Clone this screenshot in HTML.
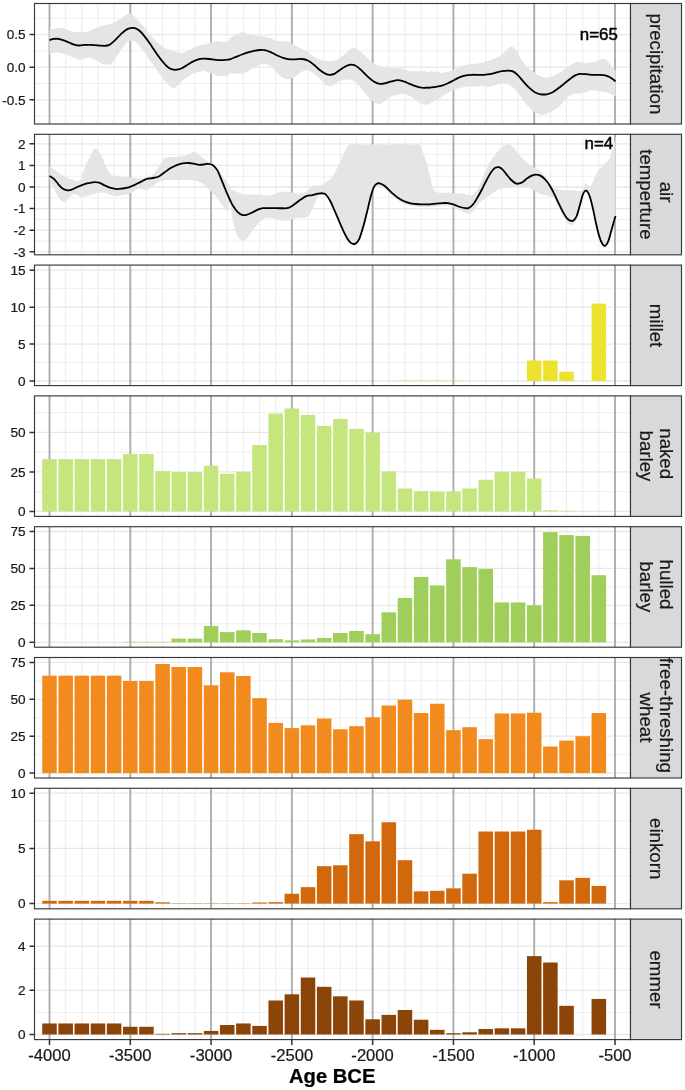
<!DOCTYPE html><html><head><meta charset="utf-8"><title>Age BCE</title><style>html,body{margin:0;padding:0;background:#fff}svg{display:block}text{font-family:"Liberation Sans",Arial,Helvetica,sans-serif;fill:#1a1a1a;stroke:#1a1a1a;stroke-width:0.22px}</style></head><body>
<svg width="685" height="1090" viewBox="0 0 685 1090">
<rect width="685" height="1090" fill="#fff"/>
<g>
<clipPath id="c0"><rect x="34.5" y="3.5" width="596.0" height="120.5"/></clipPath>
<path d="M34.5,18.30H630.5M34.5,50.90H630.5M34.5,83.50H630.5M34.5,116.10H630.5" stroke="#e8e8e8" stroke-width="0.75" fill="none"/>
<path d="M65.66,3.5V124.0M81.81,3.5V124.0M97.97,3.5V124.0M114.13,3.5V124.0M146.44,3.5V124.0M162.60,3.5V124.0M178.76,3.5V124.0M194.91,3.5V124.0M227.23,3.5V124.0M243.39,3.5V124.0M259.54,3.5V124.0M275.70,3.5V124.0M308.01,3.5V124.0M324.17,3.5V124.0M340.33,3.5V124.0M356.48,3.5V124.0M388.80,3.5V124.0M404.96,3.5V124.0M421.11,3.5V124.0M437.27,3.5V124.0M469.58,3.5V124.0M485.74,3.5V124.0M501.90,3.5V124.0M518.06,3.5V124.0M550.37,3.5V124.0M566.53,3.5V124.0M582.68,3.5V124.0M598.84,3.5V124.0" stroke="#e5e5e5" stroke-width="0.75" fill="none"/>
<path d="M34.5,34.60H630.5M34.5,67.20H630.5M34.5,99.80H630.5" stroke="#e8e8e8" stroke-width="1.3" fill="none"/>
<path d="M49.50,3.5V124.0M130.29,3.5V124.0M211.07,3.5V124.0M291.86,3.5V124.0M372.64,3.5V124.0M453.43,3.5V124.0M534.21,3.5V124.0M615.00,3.5V124.0" stroke="#adadad" stroke-width="1.9" fill="none"/>
<path d="M49.5,29.9 C50.2,29.7 52.2,29.0 53.9,28.7 C55.7,28.4 57.9,28.0 59.9,28.1 C61.9,28.2 63.9,28.7 65.9,29.3 C67.9,29.9 69.9,31.2 71.9,31.7 C73.9,32.2 75.9,32.2 77.9,32.3 C79.9,32.4 81.9,32.5 83.9,32.3 C85.9,32.1 87.9,31.8 89.9,31.1 C91.9,30.4 93.9,29.0 95.8,28.1 C97.8,27.2 99.8,26.3 101.8,25.7 C103.8,25.1 105.8,25.0 107.8,24.5 C109.8,24.0 111.8,23.6 113.8,22.7 C115.8,21.8 117.8,20.5 119.8,19.2 C121.8,17.9 124.0,15.9 125.8,15.0 C127.5,14.1 128.8,13.5 130.3,13.8 C131.8,14.1 133.0,15.2 134.8,16.8 C136.5,18.4 138.7,21.1 140.7,23.3 C142.7,25.6 144.7,28.1 146.7,30.5 C148.7,32.9 150.7,35.5 152.7,37.7 C154.7,39.9 156.7,42.0 158.7,43.7 C160.7,45.4 162.7,46.8 164.7,47.9 C166.7,49.0 168.7,49.6 170.7,50.3 C172.7,51.0 174.7,51.6 176.7,52.1 C178.7,52.6 180.9,53.5 182.6,53.3 C184.4,53.1 185.4,51.8 187.1,50.9 C188.9,50.0 191.1,48.8 193.1,47.9 C195.1,47.0 197.1,46.1 199.1,45.5 C201.1,44.9 203.1,44.8 205.1,44.3 C207.1,43.8 209.1,43.0 211.1,42.5 C213.1,42.0 215.1,41.4 217.1,41.3 C219.1,41.2 221.1,42.0 223.1,41.9 C225.1,41.8 227.9,41.3 229.0,40.7 C230.2,40.1 228.8,39.3 230.0,38.3 C231.2,37.3 234.0,35.7 236.0,34.7 C238.0,33.7 240.2,32.6 242.0,32.3 C243.7,32.0 244.7,32.4 246.5,32.9 C248.2,33.4 250.5,34.8 252.4,35.3 C254.4,35.8 256.4,35.7 258.4,35.9 C260.4,36.1 262.4,36.1 264.4,36.5 C266.4,36.9 268.4,37.6 270.4,38.3 C272.4,39.0 274.4,40.2 276.4,40.7 C278.4,41.2 280.4,41.1 282.4,41.3 C284.4,41.5 286.4,41.3 288.4,41.9 C290.4,42.5 292.4,43.9 294.4,44.9 C296.3,45.9 298.3,46.9 300.3,47.9 C302.3,48.9 304.3,49.6 306.3,50.9 C308.3,52.2 310.3,54.3 312.3,55.7 C314.3,57.1 316.3,58.5 318.3,59.3 C320.3,60.1 322.3,60.2 324.3,60.5 C326.3,60.8 328.3,61.2 330.3,61.1 C332.3,61.0 334.3,60.7 336.3,59.9 C338.3,59.1 340.2,57.8 342.2,56.3 C344.2,54.8 346.5,52.3 348.2,50.9 C350.0,49.5 351.2,48.2 352.7,47.9 C354.2,47.6 355.5,48.1 357.2,49.1 C359.0,50.1 361.2,52.1 363.2,53.9 C365.2,55.7 367.2,58.2 369.2,59.9 C371.2,61.6 373.2,63.0 375.2,64.1 C377.2,65.2 379.2,65.8 381.2,66.4 C383.1,67.0 385.1,67.3 387.1,67.6 C389.1,67.9 391.1,68.1 393.1,68.2 C395.1,68.3 397.1,68.0 399.1,68.2 C401.1,68.4 403.1,68.9 405.1,69.4 C407.1,69.9 409.1,70.9 411.1,71.2 C413.1,71.5 415.1,71.2 417.1,71.2 C419.1,71.2 421.1,71.0 423.1,71.2 C425.1,71.4 427.9,72.4 429.0,72.4 C430.2,72.4 428.8,71.3 430.0,71.2 C431.2,71.1 434.0,71.5 436.0,71.8 C438.0,72.1 440.0,73.0 442.0,73.0 C444.0,73.0 446.0,72.4 448.0,71.8 C450.0,71.2 451.9,70.2 453.9,69.4 C455.9,68.6 457.9,67.8 459.9,67.0 C461.9,66.2 463.9,65.2 465.9,64.7 C467.9,64.2 469.9,64.3 471.9,64.1 C473.9,63.9 475.9,63.8 477.9,63.5 C479.9,63.2 481.9,62.8 483.9,62.3 C485.9,61.8 487.9,61.2 489.9,60.5 C491.9,59.8 493.9,59.0 495.8,58.1 C497.8,57.2 500.1,56.4 501.8,55.1 C503.6,53.8 504.8,51.7 506.3,50.3 C507.8,48.8 509.3,46.6 510.8,46.4 C512.3,46.2 513.8,47.3 515.3,49.1 C516.8,50.8 518.0,54.2 519.8,56.9 C521.5,59.6 523.8,63.0 525.8,65.2 C527.8,67.5 529.8,69.0 531.8,70.6 C533.8,72.2 535.8,73.7 537.8,74.8 C539.7,75.9 541.7,76.8 543.7,77.2 C545.7,77.6 547.7,77.6 549.7,77.2 C551.7,76.8 553.7,75.8 555.7,74.8 C557.7,73.8 559.7,72.5 561.7,71.2 C563.7,69.9 565.7,68.3 567.7,67.0 C569.7,65.7 571.9,64.4 573.7,63.5 C575.4,62.6 576.4,61.8 578.2,61.7 C579.9,61.6 582.2,62.8 584.1,62.9 C586.1,63.0 588.1,62.5 590.1,62.3 C592.1,62.1 594.1,62.3 596.1,61.7 C598.1,61.1 600.4,59.0 602.1,58.7 C603.9,58.4 605.1,58.7 606.6,59.9 C608.1,61.1 609.6,64.1 611.1,65.8 C612.6,67.6 614.8,69.8 615.6,70.6 L615.6,96.4 C615.1,96.2 613.8,95.8 612.6,95.2 C611.3,94.6 609.8,93.4 608.1,92.8 C606.3,92.2 604.1,92.0 602.1,91.6 C600.1,91.2 598.1,90.6 596.1,90.4 C594.1,90.2 592.1,90.0 590.1,90.4 C588.1,90.8 586.1,92.3 584.1,92.8 C582.2,93.3 580.2,93.1 578.2,93.4 C576.2,93.7 574.2,93.7 572.2,94.6 C570.2,95.5 568.2,97.0 566.2,98.8 C564.2,100.6 562.2,103.5 560.2,105.4 C558.2,107.3 556.2,108.8 554.2,110.1 C552.2,111.4 550.2,112.3 548.2,113.1 C546.2,113.9 544.2,114.9 542.2,114.9 C540.2,114.9 538.3,114.2 536.3,113.1 C534.3,112.0 532.3,110.2 530.3,108.4 C528.3,106.5 526.3,104.3 524.3,101.8 C522.3,99.3 520.3,95.9 518.3,93.4 C516.3,90.9 514.3,88.4 512.3,86.8 C510.3,85.2 508.3,84.3 506.3,83.8 C504.3,83.3 502.3,83.5 500.3,83.8 C498.3,84.1 496.1,85.1 494.4,85.6 C492.6,86.1 491.6,86.7 489.9,86.8 C488.1,86.9 485.9,86.3 483.9,86.2 C481.9,86.1 479.9,86.1 477.9,86.2 C475.9,86.3 473.9,86.7 471.9,86.8 C469.9,86.9 467.9,86.6 465.9,86.8 C463.9,87.0 461.9,87.5 459.9,88.0 C457.9,88.5 455.9,89.0 453.9,89.8 C451.9,90.6 450.0,91.7 448.0,92.8 C446.0,93.9 444.0,95.2 442.0,96.4 C440.0,97.6 438.0,98.8 436.0,100.0 C434.0,101.2 431.7,102.8 430.0,103.6 C428.3,104.4 427.5,104.8 426.0,104.8 C424.6,104.8 423.3,104.4 421.6,103.6 C419.8,102.8 417.6,101.3 415.6,100.0 C413.6,98.7 411.6,96.8 409.6,95.8 C407.6,94.8 405.6,94.2 403.6,94.0 C401.6,93.8 399.6,94.2 397.6,94.6 C395.6,95.0 393.6,95.4 391.6,96.4 C389.6,97.4 387.4,99.4 385.6,100.6 C383.9,101.8 382.6,103.1 381.2,103.6 C379.7,104.1 378.4,104.3 376.7,103.6 C374.9,102.9 372.7,101.2 370.7,99.4 C368.7,97.6 366.7,95.1 364.7,92.8 C362.7,90.5 360.7,87.6 358.7,85.6 C356.7,83.6 354.7,81.8 352.7,80.8 C350.7,79.8 348.7,79.6 346.7,79.6 C344.7,79.6 342.7,80.0 340.7,80.8 C338.7,81.6 336.5,83.5 334.8,84.4 C333.0,85.3 331.8,86.2 330.3,86.2 C328.8,86.2 327.5,85.6 325.8,84.4 C324.0,83.2 321.8,80.8 319.8,79.0 C317.8,77.2 315.8,75.0 313.8,73.6 C311.8,72.2 309.8,70.9 307.8,70.6 C305.8,70.3 303.8,70.9 301.8,71.8 C299.8,72.7 297.8,74.8 295.8,76.0 C293.9,77.2 291.9,78.6 289.9,79.0 C287.9,79.4 285.9,79.3 283.9,78.4 C281.9,77.5 279.9,75.5 277.9,73.6 C275.9,71.7 273.9,68.6 271.9,67.0 C269.9,65.4 267.9,64.5 265.9,64.1 C263.9,63.7 261.9,64.1 259.9,64.7 C257.9,65.2 255.9,66.5 253.9,67.6 C251.9,68.7 250.0,70.2 248.0,71.2 C246.0,72.2 244.0,73.2 242.0,73.6 C240.0,74.0 238.0,73.7 236.0,73.6 C234.0,73.5 231.2,72.8 230.0,73.0 C228.8,73.2 230.2,74.3 229.0,74.8 C227.9,75.3 225.1,75.9 223.1,76.0 C221.1,76.1 219.1,75.8 217.1,75.4 C215.1,75.0 213.1,74.3 211.1,73.6 C209.1,72.9 207.1,71.5 205.1,71.2 C203.1,70.9 201.1,71.4 199.1,71.8 C197.1,72.2 195.1,72.7 193.1,73.6 C191.1,74.5 188.9,76.1 187.1,77.2 C185.4,78.3 184.1,78.9 182.6,80.2 C181.2,81.5 179.7,83.7 178.2,85.0 C176.7,86.3 175.2,87.9 173.7,88.0 C172.2,88.1 170.7,86.8 169.2,85.6 C167.7,84.4 166.4,82.9 164.7,80.8 C162.9,78.7 160.7,75.8 158.7,73.0 C156.7,70.2 154.7,66.9 152.7,64.1 C150.7,61.2 148.7,58.5 146.7,55.7 C144.7,52.9 142.7,49.7 140.7,47.3 C138.7,44.9 136.5,42.4 134.8,41.3 C133.0,40.2 131.8,40.3 130.3,40.7 C128.8,41.1 127.5,41.9 125.8,43.7 C124.0,45.5 121.5,49.0 119.8,51.5 C118.0,54.0 116.8,56.6 115.3,58.7 C113.8,60.8 112.3,63.1 110.8,64.1 C109.3,65.1 108.1,64.9 106.3,64.7 C104.6,64.5 102.3,63.8 100.3,62.9 C98.3,62.0 96.3,60.2 94.4,59.3 C92.4,58.4 90.4,57.5 88.4,57.5 C86.4,57.5 84.1,59.0 82.4,59.3 C80.6,59.6 79.6,59.7 77.9,59.3 C76.1,58.9 73.9,57.7 71.9,56.9 C69.9,56.1 67.9,55.2 65.9,54.5 C63.9,53.8 61.9,53.0 59.9,52.7 C57.9,52.4 55.7,52.4 53.9,52.7 C52.2,53.0 50.2,54.2 49.5,54.5Z" fill="#e5e5e5" clip-path="url(#c0)"/>
<path d="M49.5,40.1 C50.2,39.9 52.4,39.1 53.9,38.9 C55.4,38.7 56.9,38.7 58.4,38.9 C59.9,39.1 61.2,39.5 62.9,40.1 C64.7,40.7 66.9,41.7 68.9,42.5 C70.9,43.3 73.2,44.4 74.9,44.9 C76.6,45.4 77.6,45.5 79.4,45.5 C81.1,45.5 83.4,45.0 85.4,44.9 C87.4,44.8 89.1,44.8 91.4,44.9 C93.6,45.0 96.6,45.3 98.8,45.5 C101.1,45.6 103.1,45.9 104.8,45.8 C106.6,45.7 107.8,45.6 109.3,44.9 C110.8,44.1 112.1,42.9 113.8,41.3 C115.6,39.7 117.8,37.2 119.8,35.3 C121.8,33.4 124.0,31.1 125.8,29.9 C127.5,28.7 128.8,28.4 130.3,28.1 C131.8,27.8 133.3,27.7 134.8,28.1 C136.3,28.5 137.5,29.0 139.2,30.5 C141.0,32.0 143.2,34.6 145.2,37.1 C147.2,39.6 149.2,42.6 151.2,45.5 C153.2,48.4 155.2,51.7 157.2,54.5 C159.2,57.3 161.4,60.2 163.2,62.3 C164.9,64.4 166.2,65.8 167.7,67.0 C169.2,68.2 170.7,69.0 172.2,69.4 C173.7,69.9 175.2,69.9 176.7,69.7 C178.2,69.6 179.7,69.1 181.2,68.5 C182.6,67.9 183.9,67.2 185.6,66.1 C187.4,65.1 189.6,63.4 191.6,62.3 C193.6,61.2 195.6,60.2 197.6,59.6 C199.6,59.0 201.6,58.8 203.6,58.7 C205.6,58.6 207.6,58.8 209.6,59.0 C211.6,59.2 213.6,59.7 215.6,59.9 C217.6,60.1 219.6,60.2 221.6,60.2 C223.6,60.1 226.1,59.7 227.5,59.6 C229.0,59.4 228.6,59.7 230.0,59.3 C231.4,58.8 234.0,57.7 236.0,56.9 C238.0,56.1 240.0,55.2 242.0,54.5 C244.0,53.7 246.0,53.0 248.0,52.4 C250.0,51.8 251.9,51.3 253.9,50.9 C255.9,50.5 257.9,50.1 259.9,50.0 C261.9,49.9 263.9,49.8 265.9,50.3 C267.9,50.7 269.9,51.8 271.9,52.7 C273.9,53.6 275.9,54.8 277.9,55.7 C279.9,56.6 281.9,57.5 283.9,58.1 C285.9,58.7 287.9,59.1 289.9,59.3 C291.9,59.5 293.9,59.3 295.8,59.3 C297.8,59.2 299.8,58.8 301.8,59.0 C303.8,59.2 305.8,59.5 307.8,60.5 C309.8,61.4 311.8,63.1 313.8,64.7 C315.8,66.2 317.8,68.5 319.8,70.0 C321.8,71.6 324.0,73.1 325.8,73.9 C327.5,74.7 328.8,74.9 330.3,74.8 C331.8,74.8 333.0,74.5 334.8,73.6 C336.5,72.7 338.7,70.7 340.7,69.4 C342.7,68.1 345.0,66.6 346.7,65.8 C348.5,65.1 349.7,64.7 351.2,64.7 C352.7,64.7 354.0,64.9 355.7,65.8 C357.5,66.8 359.7,68.8 361.7,70.6 C363.7,72.4 365.7,74.8 367.7,76.6 C369.7,78.4 371.7,80.2 373.7,81.4 C375.7,82.6 377.7,83.5 379.7,83.8 C381.7,84.1 383.6,83.6 385.6,83.2 C387.6,82.8 389.6,81.9 391.6,81.4 C393.6,80.9 395.6,80.2 397.6,80.2 C399.6,80.2 401.6,80.8 403.6,81.4 C405.6,82.0 407.6,83.0 409.6,83.8 C411.6,84.6 413.6,85.6 415.6,86.2 C417.6,86.9 419.6,87.4 421.6,87.7 C423.6,87.9 426.1,87.7 427.5,87.7 C429.0,87.7 428.6,87.8 430.0,87.7 C431.4,87.5 434.0,87.1 436.0,86.8 C438.0,86.5 440.0,86.2 442.0,85.6 C444.0,85.0 446.0,84.1 448.0,83.2 C450.0,82.3 451.9,81.2 453.9,80.2 C455.9,79.2 457.9,78.0 459.9,77.2 C461.9,76.4 463.9,75.8 465.9,75.4 C467.9,75.0 469.9,74.9 471.9,74.8 C473.9,74.7 475.9,74.8 477.9,74.8 C479.9,74.8 481.9,74.9 483.9,74.8 C485.9,74.7 487.9,74.6 489.9,74.2 C491.9,73.9 493.9,73.2 495.8,72.7 C497.8,72.2 499.8,71.6 501.8,71.2 C503.8,70.9 506.1,70.6 507.8,70.6 C509.6,70.6 510.8,70.6 512.3,71.2 C513.8,71.8 515.1,72.6 516.8,74.2 C518.5,75.8 520.8,78.6 522.8,80.8 C524.8,83.0 526.8,85.5 528.8,87.4 C530.8,89.3 532.8,91.0 534.8,92.2 C536.8,93.3 538.7,93.9 540.7,94.3 C542.7,94.6 544.7,94.6 546.7,94.3 C548.7,93.9 550.7,93.2 552.7,92.2 C554.7,91.1 556.7,89.5 558.7,88.0 C560.7,86.5 562.7,84.8 564.7,83.2 C566.7,81.6 568.9,79.7 570.7,78.4 C572.4,77.1 573.7,76.2 575.2,75.4 C576.7,74.7 577.9,74.1 579.7,73.9 C581.4,73.7 583.6,74.1 585.6,74.2 C587.6,74.4 589.6,74.7 591.6,74.8 C593.6,74.9 595.6,74.8 597.6,74.8 C599.6,74.9 601.9,74.9 603.6,75.1 C605.3,75.4 606.6,75.7 608.1,76.3 C609.6,77.0 611.3,78.2 612.6,79.0 C613.8,79.9 615.1,81.0 615.6,81.4" fill="none" stroke="#000" stroke-width="1.8" stroke-linejoin="round"/>
<rect x="34.5" y="3.5" width="596.0" height="120.5" fill="none" stroke="#383838" stroke-width="1.15"/>
<rect x="630.5" y="3.5" width="51.0" height="120.5" fill="#d9d9d9" stroke="#383838" stroke-width="1.15"/>
<text transform="translate(649.8,63.9) scale(0.99,1) rotate(90)" text-anchor="middle" font-size="18.7">precipitation</text>
<path d="M29.5,34.60H34.5M29.5,67.20H34.5M29.5,99.80H34.5" stroke="#333" stroke-width="1.5" fill="none"/>
<text x="25.6" y="39.4" text-anchor="end" font-size="13.6">0.5</text>
<text x="25.6" y="72.0" text-anchor="end" font-size="13.6">0.0</text>
<text x="25.6" y="104.6" text-anchor="end" font-size="13.6">-0.5</text>
</g>
<g>
<clipPath id="c1"><rect x="34.5" y="134.3" width="596.0" height="120.5"/></clipPath>
<path d="M34.5,154.60H630.5M34.5,176.20H630.5M34.5,197.80H630.5M34.5,219.40H630.5M34.5,241.00H630.5" stroke="#e8e8e8" stroke-width="0.75" fill="none"/>
<path d="M65.66,134.3V254.8M81.81,134.3V254.8M97.97,134.3V254.8M114.13,134.3V254.8M146.44,134.3V254.8M162.60,134.3V254.8M178.76,134.3V254.8M194.91,134.3V254.8M227.23,134.3V254.8M243.39,134.3V254.8M259.54,134.3V254.8M275.70,134.3V254.8M308.01,134.3V254.8M324.17,134.3V254.8M340.33,134.3V254.8M356.48,134.3V254.8M388.80,134.3V254.8M404.96,134.3V254.8M421.11,134.3V254.8M437.27,134.3V254.8M469.58,134.3V254.8M485.74,134.3V254.8M501.90,134.3V254.8M518.06,134.3V254.8M550.37,134.3V254.8M566.53,134.3V254.8M582.68,134.3V254.8M598.84,134.3V254.8" stroke="#e5e5e5" stroke-width="0.75" fill="none"/>
<path d="M34.5,143.80H630.5M34.5,165.40H630.5M34.5,187.00H630.5M34.5,208.60H630.5M34.5,230.20H630.5M34.5,251.80H630.5" stroke="#e8e8e8" stroke-width="1.3" fill="none"/>
<path d="M49.50,134.3V254.8M130.29,134.3V254.8M211.07,134.3V254.8M291.86,134.3V254.8M372.64,134.3V254.8M453.43,134.3V254.8M534.21,134.3V254.8M615.00,134.3V254.8" stroke="#adadad" stroke-width="1.9" fill="none"/>
<path d="M49.5,165.7 C50.5,166.5 53.4,169.0 55.4,170.5 C57.4,172.0 59.4,173.5 61.4,174.7 C63.4,175.9 65.4,176.8 67.4,177.7 C69.4,178.6 71.4,179.6 73.4,180.1 C75.4,180.6 77.6,182.4 79.4,180.7 C81.1,179.0 82.4,173.4 83.9,169.9 C85.4,166.4 86.9,162.9 88.4,159.7 C89.9,156.5 91.5,152.7 92.9,150.8 C94.2,148.9 95.2,147.9 96.4,148.4 C97.7,148.9 98.9,151.2 100.3,153.7 C101.7,156.3 103.3,160.7 104.8,163.9 C106.3,167.1 107.8,170.9 109.3,172.9 C110.8,174.9 112.1,175.3 113.8,175.9 C115.6,176.5 117.8,176.3 119.8,176.5 C121.8,176.7 123.8,176.9 125.8,177.1 C127.8,177.3 129.8,177.5 131.8,177.7 C133.8,177.9 135.8,178.2 137.8,178.3 C139.7,178.4 141.7,178.6 143.7,178.3 C145.7,178.0 148.0,177.4 149.7,176.5 C151.5,175.6 152.7,174.5 154.2,172.9 C155.7,171.3 157.2,169.1 158.7,166.9 C160.2,164.7 161.9,161.3 163.2,159.7 C164.4,158.1 164.7,157.7 166.2,157.3 C167.7,156.9 170.2,157.4 172.2,157.3 C174.2,157.2 176.2,156.9 178.2,156.7 C180.2,156.5 182.4,156.5 184.1,156.1 C185.9,155.7 187.0,155.0 188.6,154.3 C190.3,153.6 192.3,151.9 194.0,152.0 C195.8,152.1 197.3,153.6 199.1,154.9 C201.0,156.2 203.1,158.3 205.1,159.7 C207.1,161.1 209.1,161.9 211.1,163.3 C213.1,164.7 215.1,165.9 217.1,168.1 C219.1,170.3 221.1,173.7 223.1,176.5 C225.1,179.3 227.9,182.9 229.0,184.9 C230.2,186.9 228.8,187.4 230.0,188.5 C231.2,189.6 234.0,190.6 236.0,191.5 C238.0,192.4 240.0,193.4 242.0,193.9 C244.0,194.4 246.0,194.4 248.0,194.5 C250.0,194.6 251.9,194.5 253.9,194.5 C255.9,194.5 257.9,194.3 259.9,194.5 C261.9,194.7 263.9,195.6 265.9,195.7 C267.9,195.8 269.9,195.6 271.9,195.1 C273.9,194.6 275.9,193.3 277.9,192.7 C279.9,192.1 281.9,191.6 283.9,191.5 C285.9,191.4 287.9,191.8 289.9,192.1 C291.9,192.4 293.9,193.1 295.8,193.3 C297.8,193.5 299.8,193.7 301.8,193.3 C303.8,192.9 306.1,192.1 307.8,190.9 C309.6,189.7 310.8,187.0 312.3,186.1 C313.8,185.2 315.3,185.7 316.8,185.5 C318.3,185.3 319.8,185.5 321.3,184.9 C322.8,184.3 324.3,182.9 325.8,181.9 C327.3,180.9 328.8,180.4 330.3,178.9 C331.8,177.4 333.3,175.5 334.8,172.9 C336.3,170.3 337.8,166.5 339.2,163.3 C340.7,160.1 342.2,156.6 343.7,153.7 C345.2,150.9 347.0,147.6 348.2,146.0 C349.5,144.4 349.5,144.5 351.2,144.2 C353.0,143.9 356.0,144.1 358.7,144.2 C361.4,144.3 364.7,144.8 367.7,144.8 C370.7,144.8 373.7,144.2 376.7,144.2 C379.7,144.2 382.6,144.8 385.6,144.8 C388.6,144.8 391.6,144.3 394.6,144.2 C397.6,144.1 400.6,144.1 403.6,144.2 C406.6,144.3 410.1,144.8 412.6,144.8 C415.1,144.8 417.1,143.5 418.6,144.2 C420.1,144.9 420.3,146.2 421.6,149.0 C422.8,151.8 424.6,156.4 426.0,160.9 C427.5,165.4 428.9,171.6 430.0,175.9 C431.1,180.2 431.4,184.0 432.4,186.7 C433.4,189.4 434.4,191.1 436.0,192.1 C437.6,193.1 440.0,192.6 442.0,192.7 C444.0,192.8 446.0,192.6 448.0,192.7 C450.0,192.8 451.9,193.2 453.9,193.3 C455.9,193.4 457.9,193.1 459.9,193.3 C461.9,193.5 463.9,194.2 465.9,194.5 C467.9,194.8 470.2,195.7 471.9,195.1 C473.6,194.5 474.9,193.1 476.4,190.9 C477.9,188.7 479.4,185.1 480.9,181.9 C482.4,178.7 483.9,175.0 485.4,171.7 C486.9,168.4 488.4,164.8 489.9,162.1 C491.4,159.4 492.9,157.5 494.4,155.5 C495.8,153.5 497.3,151.8 498.8,150.2 C500.3,148.6 501.8,147.0 503.3,146.0 C504.8,145.0 506.3,144.1 507.8,144.2 C509.3,144.3 510.8,145.4 512.3,146.6 C513.8,147.8 515.3,149.7 516.8,151.4 C518.3,153.0 519.8,155.0 521.3,156.7 C522.8,158.4 524.3,160.1 525.8,161.5 C527.3,162.9 528.8,164.0 530.3,165.1 C531.8,166.2 533.3,167.2 534.8,168.1 C536.3,169.0 538.0,169.7 539.2,170.5 C540.5,171.3 541.2,171.9 542.2,172.9 C543.2,173.9 544.2,175.1 545.2,176.5 C546.2,177.9 547.0,179.6 548.2,181.3 C549.5,183.0 551.2,185.4 552.7,186.7 C554.2,188.0 555.5,188.5 557.2,189.1 C559.0,189.7 560.9,190.1 563.2,190.3 C565.4,190.5 568.2,190.2 570.7,190.3 C573.2,190.4 576.2,191.0 578.2,190.9 C580.2,190.8 581.4,191.1 582.6,189.7 C583.9,188.3 584.9,183.4 585.6,182.5 C586.4,181.6 586.4,183.6 587.1,184.3 C587.9,185.0 589.0,187.6 590.1,186.7 C591.3,185.8 592.8,181.4 594.0,178.9 C595.3,176.4 596.3,173.8 597.6,171.7 C599.0,169.6 600.6,167.9 602.1,166.3 C603.6,164.7 605.3,163.5 606.6,162.1 C607.8,160.7 608.6,160.1 609.6,157.9 C610.6,155.7 611.6,152.5 612.6,149.0 C613.6,145.5 615.1,139.0 615.6,137.0 L615.6,217.2 C615.3,218.0 614.8,219.4 614.1,222.0 C613.3,224.6 612.1,229.2 611.1,232.8 C610.1,236.3 609.1,240.8 608.1,243.2 C607.1,245.7 606.1,247.1 605.1,247.4 C604.1,247.7 603.1,246.7 602.1,245.0 C601.1,243.4 600.1,240.8 599.1,237.6 C598.1,234.3 597.1,230.0 596.1,225.6 C595.1,221.2 594.1,215.6 593.1,211.2 C592.1,206.8 591.1,202.2 590.1,199.2 C589.2,196.2 588.2,194.3 587.4,193.3 C586.7,192.3 586.3,192.7 585.6,193.3 C584.9,193.9 584.1,194.5 583.2,196.8 C582.3,199.2 581.3,204.1 580.3,207.6 C579.3,211.1 578.3,215.2 577.3,217.8 C576.3,220.4 575.4,222.0 574.3,223.2 C573.2,224.4 571.9,225.1 570.7,225.0 C569.5,224.9 568.3,224.0 567.1,222.6 C565.8,221.2 564.6,219.2 563.2,216.6 C561.8,214.0 560.2,210.0 558.7,207.0 C557.2,204.0 555.7,200.4 554.2,198.6 C552.7,196.8 551.5,196.8 549.7,196.2 C548.0,195.7 545.7,195.7 543.7,195.1 C541.7,194.5 539.7,193.7 537.8,192.7 C535.8,191.7 533.8,190.0 531.8,189.1 C529.8,188.2 527.8,187.7 525.8,187.3 C523.8,186.9 521.8,186.8 519.8,186.7 C517.8,186.6 515.8,186.6 513.8,186.7 C511.8,186.8 509.8,187.0 507.8,187.3 C505.8,187.6 503.8,187.9 501.8,188.5 C499.8,189.1 497.8,189.8 495.8,190.9 C493.9,192.0 491.9,193.7 489.9,195.1 C487.9,196.4 485.6,197.9 483.9,199.2 C482.1,200.5 481.0,201.1 479.4,202.8 C477.8,204.5 475.8,207.6 474.3,209.4 C472.8,211.2 471.9,213.0 470.4,213.6 C468.9,214.2 467.1,213.5 465.3,213.0 C463.6,212.5 461.8,211.5 459.9,210.6 C458.0,209.7 455.9,208.4 453.9,207.6 C451.9,206.8 450.0,206.1 448.0,205.8 C446.0,205.5 444.0,205.7 442.0,205.8 C440.0,205.9 438.0,206.2 436.0,206.4 C434.0,206.6 431.4,207.0 430.0,207.0 C428.6,207.1 429.0,206.8 427.5,206.7 C426.1,206.7 423.6,206.8 421.6,206.7 C419.6,206.7 417.6,206.6 415.6,206.4 C413.6,206.2 411.6,206.0 409.6,205.5 C407.6,205.1 405.6,204.6 403.6,203.7 C401.6,202.8 399.4,201.3 397.6,200.1 C395.9,199.0 394.6,198.1 393.1,196.8 C391.6,195.6 390.1,194.1 388.6,192.7 C387.1,191.3 385.6,189.6 384.1,188.5 C382.6,187.4 380.9,186.4 379.7,186.1 C378.4,185.8 377.7,186.1 376.7,186.7 C375.7,187.3 374.7,187.7 373.7,189.7 C372.7,191.6 371.8,194.4 370.7,198.3 C369.6,202.3 368.3,208.3 367.1,213.3 C365.8,218.3 364.5,223.8 363.2,228.3 C361.9,232.8 360.5,237.5 359.3,240.2 C358.1,243.0 356.9,244.2 355.7,245.0 C354.5,245.8 353.4,245.7 352.1,245.0 C350.9,244.4 349.6,243.2 348.2,241.1 C346.8,239.1 345.2,235.9 343.7,232.8 C342.2,229.7 340.7,226.0 339.2,222.6 C337.8,219.2 336.3,215.8 334.8,212.4 C333.3,209.0 331.8,205.0 330.3,202.2 C328.8,199.4 326.8,196.8 325.8,195.7 C324.8,194.5 325.3,195.2 324.3,195.1 C323.3,195.0 321.0,194.5 319.8,195.1 C318.5,195.7 317.8,196.8 316.8,198.6 C315.8,200.4 315.1,203.1 313.8,205.8 C312.6,208.5 310.8,212.8 309.3,214.8 C307.8,216.8 306.6,217.3 304.8,217.8 C303.1,218.3 300.8,217.6 298.8,217.8 C296.8,218.0 294.9,218.5 292.9,219.0 C290.9,219.5 288.9,220.6 286.9,220.8 C284.9,221.0 282.9,220.5 280.9,220.2 C278.9,219.9 276.9,219.4 274.9,219.0 C272.9,218.6 270.9,217.7 268.9,217.8 C266.9,217.9 264.9,218.4 262.9,219.6 C260.9,220.8 258.9,222.8 256.9,225.0 C254.9,227.2 252.7,230.5 251.0,232.8 C249.2,235.1 248.0,237.5 246.5,238.8 C245.0,240.0 243.5,241.0 242.0,240.5 C240.5,240.0 239.0,239.1 237.5,235.8 C236.0,232.5 234.2,226.3 233.0,220.8 C231.7,215.3 230.9,204.4 230.0,202.8 C229.1,201.2 229.0,211.0 227.5,211.2 C226.1,211.4 223.6,206.5 221.6,204.0 C219.6,201.5 217.6,198.6 215.6,196.2 C213.6,193.9 211.6,191.7 209.6,189.7 C207.6,187.7 205.6,185.7 203.6,184.3 C201.6,182.9 199.6,182.0 197.6,181.3 C195.6,180.6 193.6,180.3 191.6,180.1 C189.6,179.9 187.6,180.1 185.6,180.1 C183.6,180.1 181.7,180.1 179.7,180.1 C177.7,180.1 175.7,180.1 173.7,180.1 C171.7,180.1 169.7,180.0 167.7,180.1 C165.7,180.2 163.7,180.1 161.7,180.7 C159.7,181.3 157.7,182.4 155.7,183.7 C153.7,185.0 151.5,187.5 149.7,188.5 C148.0,189.5 147.0,189.7 145.2,189.7 C143.5,189.7 141.0,188.3 139.2,188.5 C137.5,188.7 136.5,190.0 134.8,190.9 C133.0,191.8 130.8,193.2 128.8,193.9 C126.8,194.6 124.8,194.7 122.8,195.1 C120.8,195.5 118.8,196.2 116.8,196.2 C114.8,196.2 112.8,195.7 110.8,195.1 C108.8,194.5 106.8,193.1 104.8,192.7 C102.8,192.3 100.8,192.4 98.8,192.7 C96.8,193.0 94.9,194.0 92.9,194.5 C90.9,195.0 88.9,195.3 86.9,195.7 C84.9,196.1 82.9,197.1 80.9,196.8 C78.9,196.5 76.6,194.0 74.9,193.9 C73.2,193.8 71.9,195.0 70.4,196.2 C68.9,197.5 67.3,200.7 65.9,201.6 C64.6,202.5 63.6,202.4 62.3,201.6 C61.1,200.8 59.8,199.0 58.4,196.8 C57.0,194.7 55.4,191.5 53.9,188.5 C52.4,185.5 50.2,180.5 49.5,178.9Z" fill="#e5e5e5" clip-path="url(#c1)"/>
<path d="M49.5,175.9 C50.2,176.4 52.4,177.5 53.9,178.9 C55.4,180.3 56.9,182.6 58.4,184.3 C59.9,185.9 61.4,187.8 62.9,188.8 C64.4,189.8 65.9,190.1 67.4,190.3 C68.9,190.4 70.2,190.3 71.9,189.7 C73.6,189.1 75.9,187.6 77.9,186.7 C79.9,185.8 81.9,184.9 83.9,184.3 C85.9,183.6 87.9,183.1 89.9,182.8 C91.9,182.4 94.1,182.1 95.8,182.2 C97.6,182.2 98.8,182.5 100.3,183.1 C101.8,183.6 103.1,184.7 104.8,185.5 C106.6,186.3 108.8,187.3 110.8,187.9 C112.8,188.5 114.8,189.0 116.8,189.1 C118.8,189.2 120.8,188.8 122.8,188.5 C124.8,188.2 126.8,187.9 128.8,187.3 C130.8,186.7 132.8,185.8 134.8,184.9 C136.8,184.0 138.7,182.9 140.7,181.9 C142.7,180.9 144.7,179.5 146.7,178.9 C148.7,178.2 150.7,178.4 152.7,178.0 C154.7,177.6 156.7,177.4 158.7,176.5 C160.7,175.5 162.7,173.7 164.7,172.3 C166.7,170.9 168.7,169.3 170.7,168.1 C172.7,166.9 174.7,165.9 176.7,165.1 C178.7,164.3 180.7,163.7 182.6,163.3 C184.6,163.0 186.6,162.9 188.6,163.0 C190.6,163.1 192.9,163.6 194.6,163.9 C196.4,164.2 197.6,164.7 199.1,164.8 C200.6,164.9 202.1,164.7 203.6,164.5 C205.1,164.4 206.6,163.8 208.1,163.9 C209.6,164.0 211.1,164.1 212.6,165.1 C214.1,166.1 215.6,167.4 217.1,169.9 C218.6,172.4 220.1,176.6 221.6,180.1 C223.1,183.6 224.6,187.6 226.0,190.9 C227.5,194.2 228.8,197.3 230.0,199.8 C231.2,202.3 231.7,203.8 233.0,205.8 C234.2,207.8 236.0,210.3 237.5,211.8 C239.0,213.3 240.5,214.3 242.0,214.8 C243.5,215.3 244.7,215.2 246.5,214.8 C248.2,214.4 250.5,213.3 252.4,212.4 C254.4,211.5 256.7,210.1 258.4,209.4 C260.2,208.7 261.2,208.4 262.9,208.2 C264.7,208.0 266.9,208.2 268.9,208.2 C270.9,208.2 272.9,208.2 274.9,208.2 C276.9,208.2 278.6,208.3 280.9,208.2 C283.1,208.2 286.1,208.6 288.4,207.9 C290.6,207.3 292.4,205.7 294.4,204.3 C296.3,203.0 298.3,201.2 300.3,199.8 C302.3,198.5 304.3,197.0 306.3,196.2 C308.3,195.5 310.3,195.5 312.3,195.1 C314.3,194.6 316.6,193.9 318.3,193.6 C320.0,193.3 321.5,193.1 322.8,193.3 C324.0,193.4 324.5,193.2 325.8,194.5 C327.0,195.8 328.8,198.2 330.3,201.0 C331.8,203.8 333.3,207.8 334.8,211.2 C336.3,214.6 337.8,218.0 339.2,221.4 C340.7,224.8 342.2,228.5 343.7,231.6 C345.2,234.7 346.8,238.0 348.2,239.9 C349.6,241.9 350.9,242.9 352.1,243.5 C353.4,244.1 354.5,244.3 355.7,243.5 C356.9,242.7 358.1,241.5 359.3,238.8 C360.5,236.0 361.9,231.3 363.2,226.8 C364.5,222.3 365.8,216.8 367.1,211.8 C368.3,206.8 369.6,200.9 370.7,196.8 C371.8,192.8 372.7,189.5 373.7,187.3 C374.7,185.1 375.7,184.3 376.7,183.7 C377.7,183.0 378.4,183.1 379.7,183.4 C380.9,183.7 382.6,184.4 384.1,185.5 C385.6,186.5 387.1,188.3 388.6,189.7 C390.1,191.1 391.6,192.6 393.1,193.9 C394.6,195.2 395.9,196.2 397.6,197.4 C399.4,198.6 401.6,200.1 403.6,201.0 C405.6,202.0 407.6,202.6 409.6,203.1 C411.6,203.6 413.6,203.8 415.6,204.0 C417.6,204.2 419.6,204.3 421.6,204.3 C423.6,204.4 426.1,204.3 427.5,204.3 C429.0,204.3 428.6,204.4 430.0,204.3 C431.4,204.2 434.0,203.9 436.0,203.7 C438.0,203.5 440.0,203.2 442.0,203.1 C444.0,203.0 446.0,202.9 448.0,203.1 C450.0,203.4 451.9,204.0 453.9,204.6 C455.9,205.3 458.0,206.4 459.9,207.0 C461.8,207.6 463.8,208.1 465.3,208.2 C466.8,208.4 467.6,208.6 468.9,207.9 C470.3,207.2 471.9,205.9 473.4,204.0 C474.9,202.2 476.4,199.4 477.9,196.8 C479.4,194.3 480.9,191.4 482.4,188.5 C483.9,185.6 485.4,182.3 486.9,179.5 C488.4,176.7 490.0,173.7 491.4,171.7 C492.8,169.8 494.0,168.6 495.2,167.8 C496.5,167.1 497.6,167.0 498.8,167.2 C500.0,167.5 501.2,168.2 502.4,169.3 C503.7,170.5 504.9,172.4 506.3,174.1 C507.7,175.8 509.3,178.0 510.8,179.5 C512.3,181.0 514.1,182.4 515.3,183.1 C516.6,183.8 517.0,183.9 518.3,183.7 C519.5,183.5 521.3,182.8 522.8,181.9 C524.3,181.0 525.8,179.3 527.3,178.3 C528.8,177.2 530.3,176.2 531.8,175.6 C533.3,175.0 534.8,174.6 536.3,174.7 C537.8,174.7 539.2,175.1 540.7,175.9 C542.2,176.7 543.7,177.9 545.2,179.5 C546.7,181.1 548.2,183.1 549.7,185.5 C551.2,187.9 552.7,190.9 554.2,193.9 C555.7,196.8 557.2,200.3 558.7,203.4 C560.2,206.5 561.8,209.9 563.2,212.4 C564.6,214.9 565.8,217.0 567.1,218.4 C568.3,219.8 569.6,220.5 570.7,220.8 C571.8,221.1 572.7,221.0 573.7,220.2 C574.7,219.4 575.7,218.4 576.7,216.0 C577.7,213.6 578.7,209.3 579.7,205.8 C580.7,202.3 581.8,197.5 582.6,195.1 C583.5,192.6 584.2,191.5 585.0,190.9 C585.8,190.3 586.6,190.4 587.4,191.5 C588.3,192.6 589.2,194.5 590.1,197.4 C591.1,200.4 592.1,205.0 593.1,209.4 C594.1,213.8 595.1,219.4 596.1,223.8 C597.1,228.2 598.1,232.5 599.1,235.8 C600.1,239.1 601.1,241.8 602.1,243.5 C603.1,245.2 604.1,246.2 605.1,245.9 C606.1,245.6 607.1,244.1 608.1,241.7 C609.1,239.4 610.1,235.1 611.1,231.6 C612.1,228.1 613.3,223.4 614.1,220.8 C614.8,218.2 615.3,216.8 615.6,216.0" fill="none" stroke="#000" stroke-width="1.8" stroke-linejoin="round"/>
<rect x="34.5" y="134.3" width="596.0" height="120.5" fill="none" stroke="#383838" stroke-width="1.15"/>
<rect x="630.5" y="134.3" width="51.0" height="120.5" fill="#d9d9d9" stroke="#383838" stroke-width="1.15"/>
<text transform="translate(660.0,192.1) scale(0.99,1) rotate(90)" text-anchor="middle" font-size="18.7">air</text>
<text transform="translate(639.6,194.4) scale(0.99,1) rotate(90)" text-anchor="middle" font-size="18.7">temperture</text>
<path d="M29.5,143.80H34.5M29.5,165.40H34.5M29.5,187.00H34.5M29.5,208.60H34.5M29.5,230.20H34.5M29.5,251.80H34.5" stroke="#333" stroke-width="1.5" fill="none"/>
<text x="25.6" y="148.6" text-anchor="end" font-size="13.6">2</text>
<text x="25.6" y="170.2" text-anchor="end" font-size="13.6">1</text>
<text x="25.6" y="191.8" text-anchor="end" font-size="13.6">0</text>
<text x="25.6" y="213.4" text-anchor="end" font-size="13.6">-1</text>
<text x="25.6" y="235.0" text-anchor="end" font-size="13.6">-2</text>
<text x="25.6" y="256.6" text-anchor="end" font-size="13.6">-3</text>
</g>
<g>
<clipPath id="c2"><rect x="34.5" y="265.1" width="596.0" height="120.5"/></clipPath>
<path d="M34.5,288.68H630.5M34.5,325.61H630.5M34.5,362.54H630.5" stroke="#e8e8e8" stroke-width="0.75" fill="none"/>
<path d="M65.66,265.1V385.6M81.81,265.1V385.6M97.97,265.1V385.6M114.13,265.1V385.6M146.44,265.1V385.6M162.60,265.1V385.6M178.76,265.1V385.6M194.91,265.1V385.6M227.23,265.1V385.6M243.39,265.1V385.6M259.54,265.1V385.6M275.70,265.1V385.6M308.01,265.1V385.6M324.17,265.1V385.6M340.33,265.1V385.6M356.48,265.1V385.6M388.80,265.1V385.6M404.96,265.1V385.6M421.11,265.1V385.6M437.27,265.1V385.6M469.58,265.1V385.6M485.74,265.1V385.6M501.90,265.1V385.6M518.06,265.1V385.6M550.37,265.1V385.6M566.53,265.1V385.6M582.68,265.1V385.6M598.84,265.1V385.6" stroke="#e5e5e5" stroke-width="0.75" fill="none"/>
<path d="M34.5,270.21H630.5M34.5,307.14H630.5M34.5,344.07H630.5M34.5,381.00H630.5" stroke="#e8e8e8" stroke-width="1.3" fill="none"/>
<path d="M49.50,265.1V385.6M130.29,265.1V385.6M211.07,265.1V385.6M291.86,265.1V385.6M372.64,265.1V385.6M453.43,265.1V385.6M534.21,265.1V385.6M615.00,265.1V385.6" stroke="#adadad" stroke-width="1.9" fill="none"/>
<rect x="397.69" y="380.63" width="14.54" height="0.37" fill="#EDE22F"/>
<rect x="413.84" y="380.63" width="14.54" height="0.37" fill="#EDE22F"/>
<rect x="430.00" y="380.63" width="14.54" height="0.37" fill="#EDE22F"/>
<rect x="446.16" y="380.70" width="14.54" height="0.30" fill="#EDE22F"/>
<rect x="526.94" y="360.54" width="14.54" height="20.46" fill="#EDE22F"/>
<rect x="543.10" y="360.54" width="14.54" height="20.46" fill="#EDE22F"/>
<rect x="559.26" y="371.69" width="14.54" height="9.31" fill="#EDE22F"/>
<rect x="591.57" y="303.59" width="14.54" height="77.41" fill="#EDE22F"/>
<rect x="34.5" y="265.1" width="596.0" height="120.5" fill="none" stroke="#383838" stroke-width="1.15"/>
<rect x="630.5" y="265.1" width="51.0" height="120.5" fill="#d9d9d9" stroke="#383838" stroke-width="1.15"/>
<text transform="translate(649.8,325.5) scale(0.99,1) rotate(90)" text-anchor="middle" font-size="18.7">millet</text>
<path d="M29.5,270.21H34.5M29.5,307.14H34.5M29.5,344.07H34.5M29.5,381.00H34.5" stroke="#333" stroke-width="1.5" fill="none"/>
<text x="25.6" y="275.0" text-anchor="end" font-size="13.6">15</text>
<text x="25.6" y="311.9" text-anchor="end" font-size="13.6">10</text>
<text x="25.6" y="348.9" text-anchor="end" font-size="13.6">5</text>
<text x="25.6" y="385.8" text-anchor="end" font-size="13.6">0</text>
</g>
<g>
<clipPath id="c3"><rect x="34.5" y="395.9" width="596.0" height="120.5"/></clipPath>
<path d="M34.5,412.65H630.5M34.5,452.15H630.5M34.5,491.65H630.5" stroke="#e8e8e8" stroke-width="0.75" fill="none"/>
<path d="M65.66,395.9V516.4M81.81,395.9V516.4M97.97,395.9V516.4M114.13,395.9V516.4M146.44,395.9V516.4M162.60,395.9V516.4M178.76,395.9V516.4M194.91,395.9V516.4M227.23,395.9V516.4M243.39,395.9V516.4M259.54,395.9V516.4M275.70,395.9V516.4M308.01,395.9V516.4M324.17,395.9V516.4M340.33,395.9V516.4M356.48,395.9V516.4M388.80,395.9V516.4M404.96,395.9V516.4M421.11,395.9V516.4M437.27,395.9V516.4M469.58,395.9V516.4M485.74,395.9V516.4M501.90,395.9V516.4M518.06,395.9V516.4M550.37,395.9V516.4M566.53,395.9V516.4M582.68,395.9V516.4M598.84,395.9V516.4" stroke="#e5e5e5" stroke-width="0.75" fill="none"/>
<path d="M34.5,432.40H630.5M34.5,471.90H630.5M34.5,511.40H630.5" stroke="#e8e8e8" stroke-width="1.3" fill="none"/>
<path d="M49.50,395.9V516.4M130.29,395.9V516.4M211.07,395.9V516.4M291.86,395.9V516.4M372.64,395.9V516.4M453.43,395.9V516.4M534.21,395.9V516.4M615.00,395.9V516.4" stroke="#adadad" stroke-width="1.9" fill="none"/>
<rect x="42.23" y="459.15" width="14.54" height="52.25" fill="#C5E67C"/>
<rect x="58.39" y="459.15" width="14.54" height="52.25" fill="#C5E67C"/>
<rect x="74.54" y="459.15" width="14.54" height="52.25" fill="#C5E67C"/>
<rect x="90.70" y="459.15" width="14.54" height="52.25" fill="#C5E67C"/>
<rect x="106.86" y="459.15" width="14.54" height="52.25" fill="#C5E67C"/>
<rect x="123.01" y="454.05" width="14.54" height="57.35" fill="#C5E67C"/>
<rect x="139.17" y="454.05" width="14.54" height="57.35" fill="#C5E67C"/>
<rect x="155.33" y="471.11" width="14.54" height="40.29" fill="#C5E67C"/>
<rect x="171.49" y="472.06" width="14.54" height="39.34" fill="#C5E67C"/>
<rect x="187.64" y="472.06" width="14.54" height="39.34" fill="#C5E67C"/>
<rect x="203.80" y="465.74" width="14.54" height="45.66" fill="#C5E67C"/>
<rect x="219.96" y="473.80" width="14.54" height="37.60" fill="#C5E67C"/>
<rect x="236.11" y="471.74" width="14.54" height="39.66" fill="#C5E67C"/>
<rect x="252.27" y="445.04" width="14.54" height="66.36" fill="#C5E67C"/>
<rect x="268.43" y="413.60" width="14.54" height="97.80" fill="#C5E67C"/>
<rect x="284.59" y="408.54" width="14.54" height="102.86" fill="#C5E67C"/>
<rect x="300.74" y="414.86" width="14.54" height="96.54" fill="#C5E67C"/>
<rect x="316.90" y="425.92" width="14.54" height="85.48" fill="#C5E67C"/>
<rect x="333.06" y="418.97" width="14.54" height="92.43" fill="#C5E67C"/>
<rect x="349.21" y="428.92" width="14.54" height="82.48" fill="#C5E67C"/>
<rect x="365.37" y="432.56" width="14.54" height="78.84" fill="#C5E67C"/>
<rect x="381.53" y="471.43" width="14.54" height="39.97" fill="#C5E67C"/>
<rect x="397.69" y="488.49" width="14.54" height="22.91" fill="#C5E67C"/>
<rect x="413.84" y="491.18" width="14.54" height="20.22" fill="#C5E67C"/>
<rect x="430.00" y="491.49" width="14.54" height="19.91" fill="#C5E67C"/>
<rect x="446.16" y="491.49" width="14.54" height="19.91" fill="#C5E67C"/>
<rect x="462.31" y="488.49" width="14.54" height="22.91" fill="#C5E67C"/>
<rect x="478.47" y="479.80" width="14.54" height="31.60" fill="#C5E67C"/>
<rect x="494.63" y="471.74" width="14.54" height="39.66" fill="#C5E67C"/>
<rect x="510.79" y="471.74" width="14.54" height="39.66" fill="#C5E67C"/>
<rect x="526.94" y="478.54" width="14.54" height="32.86" fill="#C5E67C"/>
<rect x="543.10" y="510.29" width="14.54" height="1.11" fill="#C5E67C"/>
<rect x="559.26" y="510.93" width="14.54" height="0.47" fill="#C5E67C"/>
<rect x="575.41" y="511.24" width="14.54" height="0.16" fill="#C5E67C"/>
<rect x="34.5" y="395.9" width="596.0" height="120.5" fill="none" stroke="#383838" stroke-width="1.15"/>
<rect x="630.5" y="395.9" width="51.0" height="120.5" fill="#d9d9d9" stroke="#383838" stroke-width="1.15"/>
<text transform="translate(660.0,453.7) scale(0.99,1) rotate(90)" text-anchor="middle" font-size="18.7">naked</text>
<text transform="translate(639.6,456.0) scale(0.99,1) rotate(90)" text-anchor="middle" font-size="18.7">barley</text>
<path d="M29.5,432.40H34.5M29.5,471.90H34.5M29.5,511.40H34.5" stroke="#333" stroke-width="1.5" fill="none"/>
<text x="25.6" y="437.2" text-anchor="end" font-size="13.6">50</text>
<text x="25.6" y="476.7" text-anchor="end" font-size="13.6">25</text>
<text x="25.6" y="516.2" text-anchor="end" font-size="13.6">0</text>
</g>
<g>
<clipPath id="c4"><rect x="34.5" y="526.7" width="596.0" height="120.5"/></clipPath>
<path d="M34.5,549.97H630.5M34.5,586.90H630.5M34.5,623.83H630.5" stroke="#e8e8e8" stroke-width="0.75" fill="none"/>
<path d="M65.66,526.7V647.2M81.81,526.7V647.2M97.97,526.7V647.2M114.13,526.7V647.2M146.44,526.7V647.2M162.60,526.7V647.2M178.76,526.7V647.2M194.91,526.7V647.2M227.23,526.7V647.2M243.39,526.7V647.2M259.54,526.7V647.2M275.70,526.7V647.2M308.01,526.7V647.2M324.17,526.7V647.2M340.33,526.7V647.2M356.48,526.7V647.2M388.80,526.7V647.2M404.96,526.7V647.2M421.11,526.7V647.2M437.27,526.7V647.2M469.58,526.7V647.2M485.74,526.7V647.2M501.90,526.7V647.2M518.06,526.7V647.2M550.37,526.7V647.2M566.53,526.7V647.2M582.68,526.7V647.2M598.84,526.7V647.2" stroke="#e5e5e5" stroke-width="0.75" fill="none"/>
<path d="M34.5,531.50H630.5M34.5,568.43H630.5M34.5,605.37H630.5M34.5,642.30H630.5" stroke="#e8e8e8" stroke-width="1.3" fill="none"/>
<path d="M49.50,526.7V647.2M130.29,526.7V647.2M211.07,526.7V647.2M291.86,526.7V647.2M372.64,526.7V647.2M453.43,526.7V647.2M534.21,526.7V647.2M615.00,526.7V647.2" stroke="#adadad" stroke-width="1.9" fill="none"/>
<rect x="123.01" y="641.86" width="14.54" height="0.44" fill="#A0CE5A"/>
<rect x="139.17" y="641.86" width="14.54" height="0.44" fill="#A0CE5A"/>
<rect x="155.33" y="641.86" width="14.54" height="0.44" fill="#A0CE5A"/>
<rect x="171.49" y="638.61" width="14.54" height="3.69" fill="#A0CE5A"/>
<rect x="187.64" y="638.61" width="14.54" height="3.69" fill="#A0CE5A"/>
<rect x="203.80" y="626.05" width="14.54" height="16.25" fill="#A0CE5A"/>
<rect x="219.96" y="632.11" width="14.54" height="10.19" fill="#A0CE5A"/>
<rect x="236.11" y="630.33" width="14.54" height="11.97" fill="#A0CE5A"/>
<rect x="252.27" y="632.99" width="14.54" height="9.31" fill="#A0CE5A"/>
<rect x="268.43" y="639.20" width="14.54" height="3.10" fill="#A0CE5A"/>
<rect x="284.59" y="640.38" width="14.54" height="1.92" fill="#A0CE5A"/>
<rect x="300.74" y="639.49" width="14.54" height="2.81" fill="#A0CE5A"/>
<rect x="316.90" y="638.02" width="14.54" height="4.28" fill="#A0CE5A"/>
<rect x="333.06" y="632.99" width="14.54" height="9.31" fill="#A0CE5A"/>
<rect x="349.21" y="630.92" width="14.54" height="11.38" fill="#A0CE5A"/>
<rect x="365.37" y="634.17" width="14.54" height="8.13" fill="#A0CE5A"/>
<rect x="381.53" y="612.31" width="14.54" height="29.99" fill="#A0CE5A"/>
<rect x="397.69" y="597.98" width="14.54" height="44.32" fill="#A0CE5A"/>
<rect x="413.84" y="577.00" width="14.54" height="65.30" fill="#A0CE5A"/>
<rect x="430.00" y="585.42" width="14.54" height="56.88" fill="#A0CE5A"/>
<rect x="446.16" y="559.28" width="14.54" height="83.02" fill="#A0CE5A"/>
<rect x="462.31" y="567.11" width="14.54" height="75.19" fill="#A0CE5A"/>
<rect x="478.47" y="568.88" width="14.54" height="73.42" fill="#A0CE5A"/>
<rect x="494.63" y="602.41" width="14.54" height="39.89" fill="#A0CE5A"/>
<rect x="510.79" y="602.41" width="14.54" height="39.89" fill="#A0CE5A"/>
<rect x="526.94" y="605.37" width="14.54" height="36.93" fill="#A0CE5A"/>
<rect x="543.10" y="532.09" width="14.54" height="110.21" fill="#A0CE5A"/>
<rect x="559.26" y="535.05" width="14.54" height="107.25" fill="#A0CE5A"/>
<rect x="575.41" y="535.93" width="14.54" height="106.37" fill="#A0CE5A"/>
<rect x="591.57" y="575.23" width="14.54" height="67.07" fill="#A0CE5A"/>
<rect x="34.5" y="526.7" width="596.0" height="120.5" fill="none" stroke="#383838" stroke-width="1.15"/>
<rect x="630.5" y="526.7" width="51.0" height="120.5" fill="#d9d9d9" stroke="#383838" stroke-width="1.15"/>
<text transform="translate(660.0,584.5) scale(0.99,1) rotate(90)" text-anchor="middle" font-size="18.7">hulled</text>
<text transform="translate(639.6,586.8) scale(0.99,1) rotate(90)" text-anchor="middle" font-size="18.7">barley</text>
<path d="M29.5,531.50H34.5M29.5,568.43H34.5M29.5,605.37H34.5M29.5,642.30H34.5" stroke="#333" stroke-width="1.5" fill="none"/>
<text x="25.6" y="536.3" text-anchor="end" font-size="13.6">75</text>
<text x="25.6" y="573.2" text-anchor="end" font-size="13.6">50</text>
<text x="25.6" y="610.2" text-anchor="end" font-size="13.6">25</text>
<text x="25.6" y="647.1" text-anchor="end" font-size="13.6">0</text>
</g>
<g>
<clipPath id="c5"><rect x="34.5" y="657.5" width="596.0" height="120.5"/></clipPath>
<path d="M34.5,680.85H630.5M34.5,717.75H630.5M34.5,754.65H630.5" stroke="#e8e8e8" stroke-width="0.75" fill="none"/>
<path d="M65.66,657.5V778.0M81.81,657.5V778.0M97.97,657.5V778.0M114.13,657.5V778.0M146.44,657.5V778.0M162.60,657.5V778.0M178.76,657.5V778.0M194.91,657.5V778.0M227.23,657.5V778.0M243.39,657.5V778.0M259.54,657.5V778.0M275.70,657.5V778.0M308.01,657.5V778.0M324.17,657.5V778.0M340.33,657.5V778.0M356.48,657.5V778.0M388.80,657.5V778.0M404.96,657.5V778.0M421.11,657.5V778.0M437.27,657.5V778.0M469.58,657.5V778.0M485.74,657.5V778.0M501.90,657.5V778.0M518.06,657.5V778.0M550.37,657.5V778.0M566.53,657.5V778.0M582.68,657.5V778.0M598.84,657.5V778.0" stroke="#e5e5e5" stroke-width="0.75" fill="none"/>
<path d="M34.5,662.40H630.5M34.5,699.30H630.5M34.5,736.20H630.5M34.5,773.10H630.5" stroke="#e8e8e8" stroke-width="1.3" fill="none"/>
<path d="M49.50,657.5V778.0M130.29,657.5V778.0M211.07,657.5V778.0M291.86,657.5V778.0M372.64,657.5V778.0M453.43,657.5V778.0M534.21,657.5V778.0M615.00,657.5V778.0" stroke="#adadad" stroke-width="1.9" fill="none"/>
<rect x="42.23" y="675.68" width="14.54" height="97.42" fill="#F28A1E"/>
<rect x="58.39" y="675.68" width="14.54" height="97.42" fill="#F28A1E"/>
<rect x="74.54" y="675.68" width="14.54" height="97.42" fill="#F28A1E"/>
<rect x="90.70" y="675.68" width="14.54" height="97.42" fill="#F28A1E"/>
<rect x="106.86" y="675.68" width="14.54" height="97.42" fill="#F28A1E"/>
<rect x="123.01" y="681.00" width="14.54" height="92.10" fill="#F28A1E"/>
<rect x="139.17" y="681.00" width="14.54" height="92.10" fill="#F28A1E"/>
<rect x="155.33" y="664.02" width="14.54" height="109.08" fill="#F28A1E"/>
<rect x="171.49" y="666.98" width="14.54" height="106.12" fill="#F28A1E"/>
<rect x="187.64" y="666.98" width="14.54" height="106.12" fill="#F28A1E"/>
<rect x="203.80" y="685.28" width="14.54" height="87.82" fill="#F28A1E"/>
<rect x="219.96" y="672.29" width="14.54" height="100.81" fill="#F28A1E"/>
<rect x="236.11" y="675.98" width="14.54" height="97.12" fill="#F28A1E"/>
<rect x="252.27" y="698.12" width="14.54" height="74.98" fill="#F28A1E"/>
<rect x="268.43" y="722.92" width="14.54" height="50.18" fill="#F28A1E"/>
<rect x="284.59" y="728.08" width="14.54" height="45.02" fill="#F28A1E"/>
<rect x="300.74" y="725.28" width="14.54" height="47.82" fill="#F28A1E"/>
<rect x="316.90" y="718.49" width="14.54" height="54.61" fill="#F28A1E"/>
<rect x="333.06" y="729.26" width="14.54" height="43.84" fill="#F28A1E"/>
<rect x="349.21" y="726.16" width="14.54" height="46.94" fill="#F28A1E"/>
<rect x="365.37" y="717.31" width="14.54" height="55.79" fill="#F28A1E"/>
<rect x="381.53" y="705.50" width="14.54" height="67.60" fill="#F28A1E"/>
<rect x="397.69" y="699.60" width="14.54" height="73.50" fill="#F28A1E"/>
<rect x="413.84" y="713.03" width="14.54" height="60.07" fill="#F28A1E"/>
<rect x="430.00" y="703.73" width="14.54" height="69.37" fill="#F28A1E"/>
<rect x="446.16" y="730.15" width="14.54" height="42.95" fill="#F28A1E"/>
<rect x="462.31" y="727.20" width="14.54" height="45.90" fill="#F28A1E"/>
<rect x="478.47" y="739.15" width="14.54" height="33.95" fill="#F28A1E"/>
<rect x="494.63" y="713.47" width="14.54" height="59.63" fill="#F28A1E"/>
<rect x="510.79" y="713.47" width="14.54" height="59.63" fill="#F28A1E"/>
<rect x="526.94" y="712.73" width="14.54" height="60.37" fill="#F28A1E"/>
<rect x="543.10" y="746.53" width="14.54" height="26.57" fill="#F28A1E"/>
<rect x="559.26" y="740.63" width="14.54" height="32.47" fill="#F28A1E"/>
<rect x="575.41" y="736.20" width="14.54" height="36.90" fill="#F28A1E"/>
<rect x="591.57" y="713.03" width="14.54" height="60.07" fill="#F28A1E"/>
<rect x="34.5" y="657.5" width="596.0" height="120.5" fill="none" stroke="#383838" stroke-width="1.15"/>
<rect x="630.5" y="657.5" width="51.0" height="120.5" fill="#d9d9d9" stroke="#383838" stroke-width="1.15"/>
<text transform="translate(660.0,715.3) scale(0.99,1) rotate(90)" text-anchor="middle" font-size="18.7">free-threshing</text>
<text transform="translate(639.6,717.5) scale(0.99,1) rotate(90)" text-anchor="middle" font-size="18.7">wheat</text>
<path d="M29.5,662.40H34.5M29.5,699.30H34.5M29.5,736.20H34.5M29.5,773.10H34.5" stroke="#333" stroke-width="1.5" fill="none"/>
<text x="25.6" y="667.2" text-anchor="end" font-size="13.6">75</text>
<text x="25.6" y="704.1" text-anchor="end" font-size="13.6">50</text>
<text x="25.6" y="741.0" text-anchor="end" font-size="13.6">25</text>
<text x="25.6" y="777.9" text-anchor="end" font-size="13.6">0</text>
</g>
<g>
<clipPath id="c6"><rect x="34.5" y="788.3" width="596.0" height="120.5"/></clipPath>
<path d="M34.5,820.80H630.5M34.5,876.00H630.5" stroke="#e8e8e8" stroke-width="0.75" fill="none"/>
<path d="M65.66,788.3V908.8M81.81,788.3V908.8M97.97,788.3V908.8M114.13,788.3V908.8M146.44,788.3V908.8M162.60,788.3V908.8M178.76,788.3V908.8M194.91,788.3V908.8M227.23,788.3V908.8M243.39,788.3V908.8M259.54,788.3V908.8M275.70,788.3V908.8M308.01,788.3V908.8M324.17,788.3V908.8M340.33,788.3V908.8M356.48,788.3V908.8M388.80,788.3V908.8M404.96,788.3V908.8M421.11,788.3V908.8M437.27,788.3V908.8M469.58,788.3V908.8M485.74,788.3V908.8M501.90,788.3V908.8M518.06,788.3V908.8M550.37,788.3V908.8M566.53,788.3V908.8M582.68,788.3V908.8M598.84,788.3V908.8" stroke="#e5e5e5" stroke-width="0.75" fill="none"/>
<path d="M34.5,793.20H630.5M34.5,848.40H630.5M34.5,903.60H630.5" stroke="#e8e8e8" stroke-width="1.3" fill="none"/>
<path d="M49.50,788.3V908.8M130.29,788.3V908.8M211.07,788.3V908.8M291.86,788.3V908.8M372.64,788.3V908.8M453.43,788.3V908.8M534.21,788.3V908.8M615.00,788.3V908.8" stroke="#adadad" stroke-width="1.9" fill="none"/>
<rect x="42.23" y="900.84" width="14.54" height="2.76" fill="#D1680C"/>
<rect x="58.39" y="900.84" width="14.54" height="2.76" fill="#D1680C"/>
<rect x="74.54" y="900.84" width="14.54" height="2.76" fill="#D1680C"/>
<rect x="90.70" y="900.84" width="14.54" height="2.76" fill="#D1680C"/>
<rect x="106.86" y="900.84" width="14.54" height="2.76" fill="#D1680C"/>
<rect x="123.01" y="900.84" width="14.54" height="2.76" fill="#D1680C"/>
<rect x="139.17" y="900.84" width="14.54" height="2.76" fill="#D1680C"/>
<rect x="155.33" y="902.28" width="14.54" height="1.32" fill="#D1680C"/>
<rect x="171.49" y="903.27" width="14.54" height="0.33" fill="#D1680C"/>
<rect x="187.64" y="903.27" width="14.54" height="0.33" fill="#D1680C"/>
<rect x="203.80" y="903.27" width="14.54" height="0.33" fill="#D1680C"/>
<rect x="219.96" y="903.27" width="14.54" height="0.33" fill="#D1680C"/>
<rect x="236.11" y="903.27" width="14.54" height="0.33" fill="#D1680C"/>
<rect x="252.27" y="902.50" width="14.54" height="1.10" fill="#D1680C"/>
<rect x="268.43" y="902.16" width="14.54" height="1.44" fill="#D1680C"/>
<rect x="284.59" y="893.77" width="14.54" height="9.83" fill="#D1680C"/>
<rect x="300.74" y="887.15" width="14.54" height="16.45" fill="#D1680C"/>
<rect x="316.90" y="866.17" width="14.54" height="37.43" fill="#D1680C"/>
<rect x="333.06" y="865.29" width="14.54" height="38.31" fill="#D1680C"/>
<rect x="349.21" y="834.16" width="14.54" height="69.44" fill="#D1680C"/>
<rect x="365.37" y="841.33" width="14.54" height="62.27" fill="#D1680C"/>
<rect x="381.53" y="822.24" width="14.54" height="81.36" fill="#D1680C"/>
<rect x="397.69" y="860.21" width="14.54" height="43.39" fill="#D1680C"/>
<rect x="413.84" y="891.35" width="14.54" height="12.25" fill="#D1680C"/>
<rect x="430.00" y="890.79" width="14.54" height="12.81" fill="#D1680C"/>
<rect x="446.16" y="888.36" width="14.54" height="15.24" fill="#D1680C"/>
<rect x="462.31" y="873.68" width="14.54" height="29.92" fill="#D1680C"/>
<rect x="478.47" y="831.51" width="14.54" height="72.09" fill="#D1680C"/>
<rect x="494.63" y="831.51" width="14.54" height="72.09" fill="#D1680C"/>
<rect x="510.79" y="831.51" width="14.54" height="72.09" fill="#D1680C"/>
<rect x="526.94" y="829.74" width="14.54" height="73.86" fill="#D1680C"/>
<rect x="543.10" y="902.16" width="14.54" height="1.44" fill="#D1680C"/>
<rect x="559.26" y="880.31" width="14.54" height="23.29" fill="#D1680C"/>
<rect x="575.41" y="877.88" width="14.54" height="25.72" fill="#D1680C"/>
<rect x="591.57" y="885.94" width="14.54" height="17.66" fill="#D1680C"/>
<rect x="34.5" y="788.3" width="596.0" height="120.5" fill="none" stroke="#383838" stroke-width="1.15"/>
<rect x="630.5" y="788.3" width="51.0" height="120.5" fill="#d9d9d9" stroke="#383838" stroke-width="1.15"/>
<text transform="translate(649.8,848.7) scale(0.99,1) rotate(90)" text-anchor="middle" font-size="18.7">einkorn</text>
<path d="M29.5,793.20H34.5M29.5,848.40H34.5M29.5,903.60H34.5" stroke="#333" stroke-width="1.5" fill="none"/>
<text x="25.6" y="798.0" text-anchor="end" font-size="13.6">10</text>
<text x="25.6" y="853.2" text-anchor="end" font-size="13.6">5</text>
<text x="25.6" y="908.4" text-anchor="end" font-size="13.6">0</text>
</g>
<g>
<clipPath id="c7"><rect x="34.5" y="919.1" width="596.0" height="120.5"/></clipPath>
<path d="M34.5,924.10H630.5M34.5,968.26H630.5M34.5,1012.42H630.5" stroke="#e8e8e8" stroke-width="0.75" fill="none"/>
<path d="M65.66,919.1V1039.6M81.81,919.1V1039.6M97.97,919.1V1039.6M114.13,919.1V1039.6M146.44,919.1V1039.6M162.60,919.1V1039.6M178.76,919.1V1039.6M194.91,919.1V1039.6M227.23,919.1V1039.6M243.39,919.1V1039.6M259.54,919.1V1039.6M275.70,919.1V1039.6M308.01,919.1V1039.6M324.17,919.1V1039.6M340.33,919.1V1039.6M356.48,919.1V1039.6M388.80,919.1V1039.6M404.96,919.1V1039.6M421.11,919.1V1039.6M437.27,919.1V1039.6M469.58,919.1V1039.6M485.74,919.1V1039.6M501.90,919.1V1039.6M518.06,919.1V1039.6M550.37,919.1V1039.6M566.53,919.1V1039.6M582.68,919.1V1039.6M598.84,919.1V1039.6" stroke="#e5e5e5" stroke-width="0.75" fill="none"/>
<path d="M34.5,946.18H630.5M34.5,990.34H630.5M34.5,1034.50H630.5" stroke="#e8e8e8" stroke-width="1.3" fill="none"/>
<path d="M49.50,919.1V1039.6M130.29,919.1V1039.6M211.07,919.1V1039.6M291.86,919.1V1039.6M372.64,919.1V1039.6M453.43,919.1V1039.6M534.21,919.1V1039.6M615.00,919.1V1039.6" stroke="#adadad" stroke-width="1.9" fill="none"/>
<rect x="42.23" y="1023.46" width="14.54" height="11.04" fill="#8B4508"/>
<rect x="58.39" y="1023.46" width="14.54" height="11.04" fill="#8B4508"/>
<rect x="74.54" y="1023.46" width="14.54" height="11.04" fill="#8B4508"/>
<rect x="90.70" y="1023.46" width="14.54" height="11.04" fill="#8B4508"/>
<rect x="106.86" y="1023.46" width="14.54" height="11.04" fill="#8B4508"/>
<rect x="123.01" y="1026.77" width="14.54" height="7.73" fill="#8B4508"/>
<rect x="139.17" y="1026.77" width="14.54" height="7.73" fill="#8B4508"/>
<rect x="155.33" y="1033.84" width="14.54" height="0.66" fill="#8B4508"/>
<rect x="171.49" y="1033.18" width="14.54" height="1.32" fill="#8B4508"/>
<rect x="187.64" y="1033.18" width="14.54" height="1.32" fill="#8B4508"/>
<rect x="203.80" y="1030.97" width="14.54" height="3.53" fill="#8B4508"/>
<rect x="219.96" y="1025.01" width="14.54" height="9.49" fill="#8B4508"/>
<rect x="236.11" y="1023.46" width="14.54" height="11.04" fill="#8B4508"/>
<rect x="252.27" y="1025.89" width="14.54" height="8.61" fill="#8B4508"/>
<rect x="268.43" y="1000.50" width="14.54" height="34.00" fill="#8B4508"/>
<rect x="284.59" y="994.31" width="14.54" height="40.19" fill="#8B4508"/>
<rect x="300.74" y="977.53" width="14.54" height="56.97" fill="#8B4508"/>
<rect x="316.90" y="986.81" width="14.54" height="47.69" fill="#8B4508"/>
<rect x="333.06" y="996.30" width="14.54" height="38.20" fill="#8B4508"/>
<rect x="349.21" y="1000.50" width="14.54" height="34.00" fill="#8B4508"/>
<rect x="365.37" y="1019.26" width="14.54" height="15.24" fill="#8B4508"/>
<rect x="381.53" y="1014.85" width="14.54" height="19.65" fill="#8B4508"/>
<rect x="397.69" y="1009.99" width="14.54" height="24.51" fill="#8B4508"/>
<rect x="413.84" y="1019.71" width="14.54" height="14.79" fill="#8B4508"/>
<rect x="430.00" y="1029.86" width="14.54" height="4.64" fill="#8B4508"/>
<rect x="446.16" y="1033.18" width="14.54" height="1.32" fill="#8B4508"/>
<rect x="462.31" y="1032.29" width="14.54" height="2.21" fill="#8B4508"/>
<rect x="478.47" y="1028.98" width="14.54" height="5.52" fill="#8B4508"/>
<rect x="494.63" y="1028.32" width="14.54" height="6.18" fill="#8B4508"/>
<rect x="510.79" y="1028.32" width="14.54" height="6.18" fill="#8B4508"/>
<rect x="526.94" y="956.12" width="14.54" height="78.38" fill="#8B4508"/>
<rect x="543.10" y="962.52" width="14.54" height="71.98" fill="#8B4508"/>
<rect x="559.26" y="1005.80" width="14.54" height="28.70" fill="#8B4508"/>
<rect x="591.57" y="998.95" width="14.54" height="35.55" fill="#8B4508"/>
<rect x="34.5" y="919.1" width="596.0" height="120.5" fill="none" stroke="#383838" stroke-width="1.15"/>
<rect x="630.5" y="919.1" width="51.0" height="120.5" fill="#d9d9d9" stroke="#383838" stroke-width="1.15"/>
<text transform="translate(649.8,979.5) scale(0.99,1) rotate(90)" text-anchor="middle" font-size="18.7">emmer</text>
<path d="M29.5,946.18H34.5M29.5,990.34H34.5M29.5,1034.50H34.5" stroke="#333" stroke-width="1.5" fill="none"/>
<text x="25.6" y="951.0" text-anchor="end" font-size="13.6">4</text>
<text x="25.6" y="995.1" text-anchor="end" font-size="13.6">2</text>
<text x="25.6" y="1039.3" text-anchor="end" font-size="13.6">0</text>
</g>
<text x="617.8" y="40.0" text-anchor="end" font-size="16.9" style="fill:#000;stroke:#000;stroke-width:0.45px">n=65</text>
<text x="613.2" y="149.3" text-anchor="end" font-size="16.9" style="fill:#000;stroke:#000;stroke-width:0.45px">n=4</text>
<path d="M49.50,1039.6V1044.9M130.29,1039.6V1044.9M211.07,1039.6V1044.9M291.86,1039.6V1044.9M372.64,1039.6V1044.9M453.43,1039.6V1044.9M534.21,1039.6V1044.9M615.00,1039.6V1044.9" stroke="#333" stroke-width="1.5" fill="none"/>
<text x="49.5" y="1060.8" text-anchor="middle" font-size="16.6">-4000</text>
<text x="130.3" y="1060.8" text-anchor="middle" font-size="16.6">-3500</text>
<text x="211.1" y="1060.8" text-anchor="middle" font-size="16.6">-3000</text>
<text x="291.9" y="1060.8" text-anchor="middle" font-size="16.6">-2500</text>
<text x="372.6" y="1060.8" text-anchor="middle" font-size="16.6">-2000</text>
<text x="453.4" y="1060.8" text-anchor="middle" font-size="16.6">-1500</text>
<text x="534.2" y="1060.8" text-anchor="middle" font-size="16.6">-1000</text>
<text x="615.0" y="1060.8" text-anchor="middle" font-size="16.6">-500</text>
<text transform="translate(332.2,1083.1) scale(1.025,1)" text-anchor="middle" font-size="19.7" font-weight="bold" style="fill:#000;stroke:#000;stroke-width:0.25px">Age BCE</text>
</svg></body></html>
